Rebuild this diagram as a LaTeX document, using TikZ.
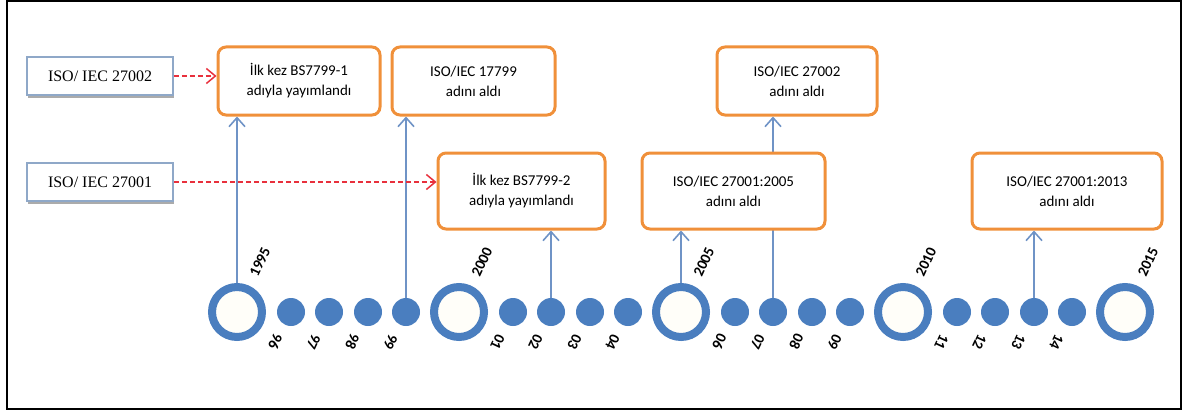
\documentclass[tikz,border=0pt]{standalone}
\usepackage{fontspec}
\setmainfont{Liberation Serif}
\newfontfamily\boxfont{Carlito}
\usetikzlibrary{arrows.meta,shadows,backgrounds}

\definecolor{tlblue}{HTML}{4A7EBF}
\definecolor{ringfill}{HTML}{FFFEF9}
\definecolor{arrowblue}{HTML}{6F93C6}
\definecolor{boxorange}{HTML}{F0903A}
\definecolor{dashred}{HTML}{E8303C}
\definecolor{tagborder}{HTML}{8FA8C8}

\begin{document}
\begin{tikzpicture}[x=1pt,y=-1pt,
  event/.style={draw=boxorange, line width=3pt, rounded corners=8pt, fill=white,
    align=center, inner sep=0pt, font=\boxfont\fontsize{15}{20}\selectfont},
  tag/.style={draw=tagborder, line width=1.5pt, fill=white, inner sep=0pt,
    minimum width=146pt, minimum height=38pt, font=\fontsize{16}{18}\selectfont,
    drop shadow={shadow xshift=1pt, shadow yshift=-3pt, fill=black!55, opacity=0.6}},
  bigring/.style={circle, draw=tlblue, line width=8pt, fill=ringfill,
    minimum size=50pt, inner sep=0pt},
  dot/.style={circle, fill=tlblue, minimum size=28pt, inner sep=0pt},
  yearlbl/.style={font=\boxfont\bfseries\fontsize{15}{15}\selectfont, rotate=65, inner sep=0pt},
  sublbl/.style={font=\boxfont\bfseries\fontsize{15}{15}\selectfont, rotate=-115, inner sep=0pt},
  uparrow/.style={draw=arrowblue, line width=1.6pt,
    -{Straight Barb[length=9pt,width=16pt]}},
  namearrow/.style={draw=dashred, line width=1.5pt, dash pattern=on 5pt off 3pt,
    -{Straight Barb[length=9pt,width=15pt]}}
]
\useasboundingbox (0,0) rectangle (1193,412);
\draw[line width=2pt] (7,1.5) rectangle (1181,409);

% standards on the left
\node[tag] (iso27002) at (100,76) {ISO/ IEC 27002};
\node[tag] (iso27001) at (100,182) {ISO/ IEC 27001};

% events
\node[event, minimum width=162pt, minimum height=68pt] (e1) at (299,81) {İlk kez BS7799-1\\adıyla yayımlandı};
\node[event, minimum width=163pt, minimum height=68pt] (e2) at (473.5,81) {ISO/IEC 17799\\adını aldı};
\node[event, minimum width=167pt, minimum height=76pt] (e3) at (521.5,191) {İlk kez BS7799-2\\adıyla yayımlandı};
\node[event, minimum width=183pt, minimum height=76pt] (e4) at (733.5,191) {ISO/IEC 27001:2005\\adını aldı};
\node[event, minimum width=160pt, minimum height=68pt] (e5) at (797,81) {ISO/IEC 27002\\adını aldı};
\node[event, minimum width=190pt, minimum height=76pt] (e6) at (1067,191) {ISO/IEC 27001:2013\\adını aldı};

% timeline: five-year rings
\foreach \yr [count=\k from 0] in {1995,2000,2005,2010,2015} {
  \node[bigring] (y\yr) at ({237+222*\k},312) {};
  \node[yearlbl] (t\yr) at ({260+222*\k},262) {\yr};
}
% timeline: single years
\foreach \lbl [count=\i from 0] in {96,97,98,99,01,02,03,04,06,07,08,09,11,12,13,14} {
  \pgfmathsetmacro\px{round(237+222*int(\i/4)+54+38.3*mod(\i,4))}
  \node[dot] (d\lbl) at (\px,312) {};
  \node[sublbl] (s\lbl) at (\px-15.5,342) {\lbl};
}

\begin{scope}[on background layer]
  \draw[uparrow] (y1995.center) -- (y1995.center |- e1.south);
  \draw[uparrow] (d99.center) -- (d99.center |- e2.south);
  \draw[uparrow] (d02.center) -- (d02.center |- e3.south);
  \draw[uparrow] (y2005.center) -- (y2005.center |- e4.south);
  \draw[uparrow] (d07.center) -- (d07.center |- e5.south);
  \draw[uparrow] (d13.center) -- (d13.center |- e6.south);
\end{scope}

\draw[namearrow] (iso27002.east) -- (iso27002.east -| e1.west);
\draw[namearrow] (iso27001.east) -- (iso27001.east -| e3.west);
\end{tikzpicture}
\end{document}
